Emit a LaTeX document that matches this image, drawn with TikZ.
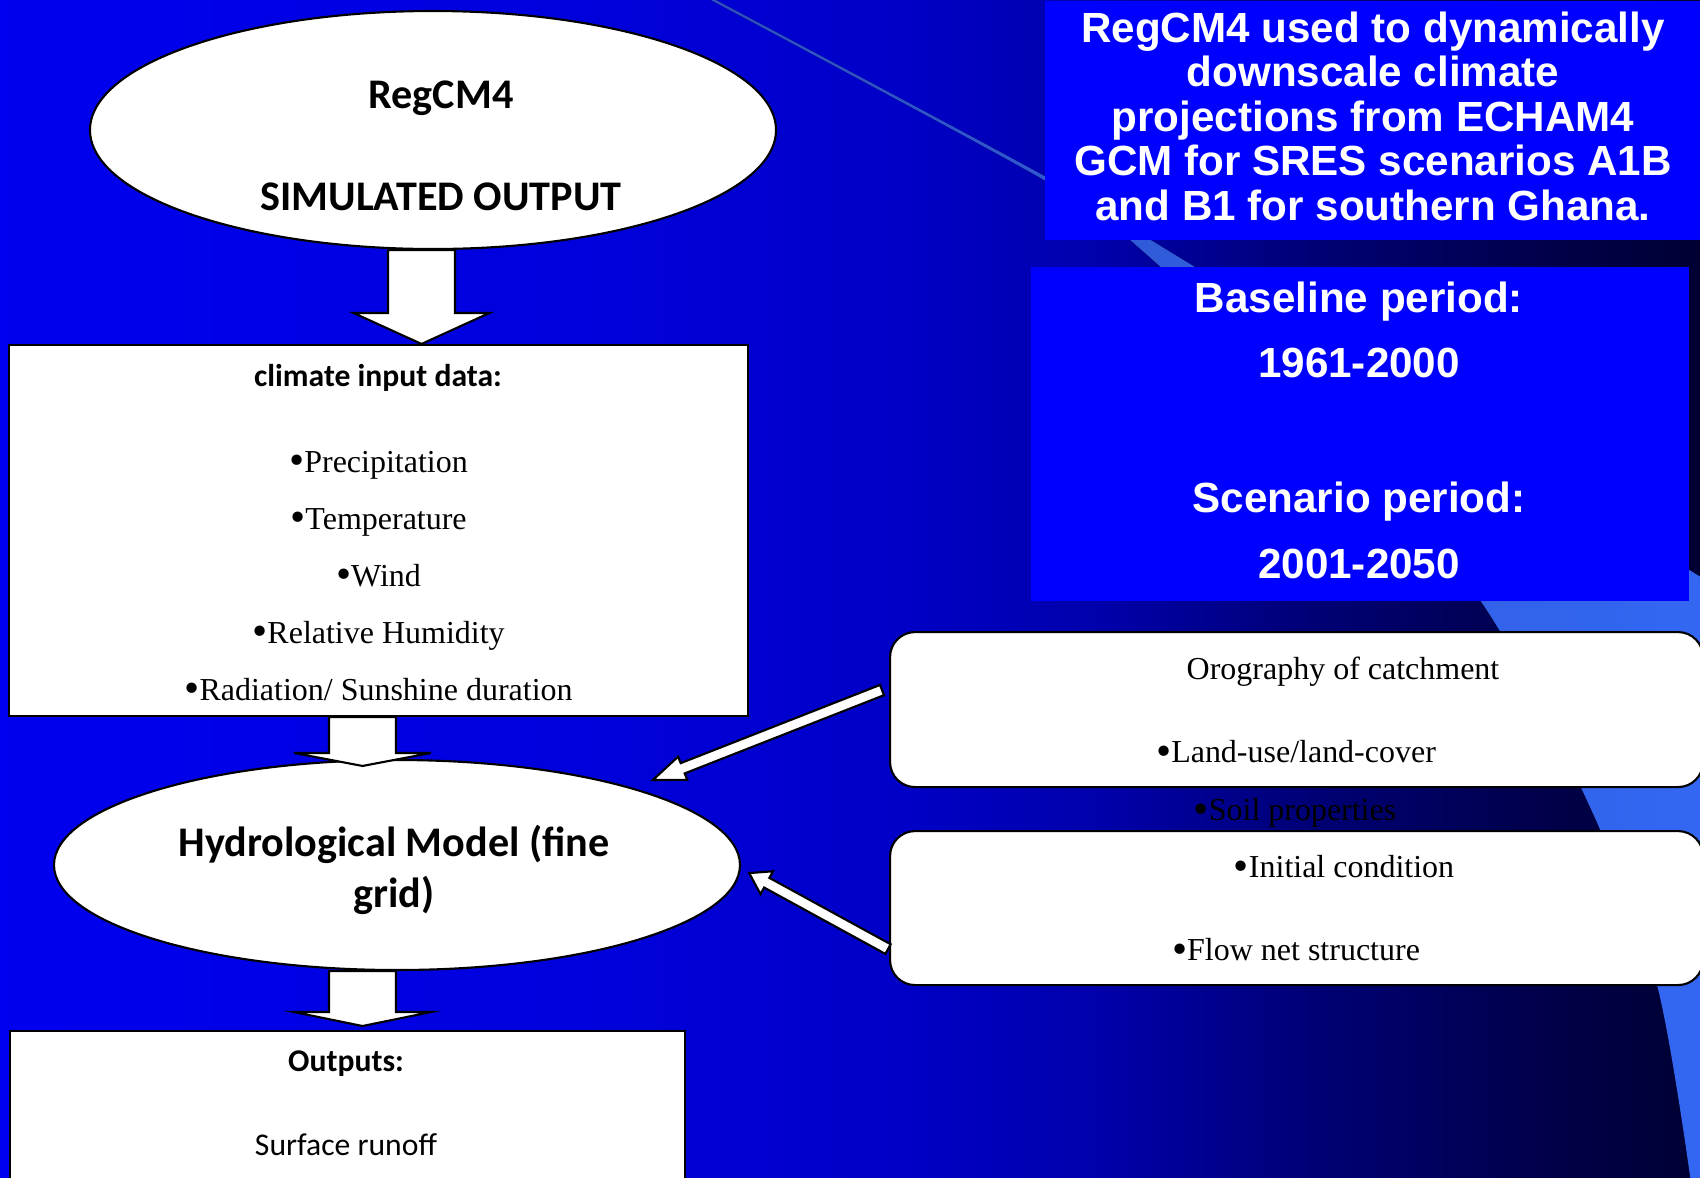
\documentclass[tikz,border=0pt]{standalone}
\usepackage{fontspec}
\setmainfont{Liberation Serif}
\newfontfamily\calibri{Carlito}
\newfontfamily\arialfont{Liberation Sans}
\usetikzlibrary{calc,shapes.geometric}
\definecolor{boxblue}{RGB}{0,0,255}
\definecolor{swooshL}{RGB}{46,80,196}
\definecolor{swooshR}{RGB}{51,104,244}
\pgfdeclarehorizontalshading{slideshade}{100bp}{rgb(0bp)=(0,0,0.94); rgb(25bp)=(0,0,0.94); rgb(42.65bp)=(0,0,0.86); rgb(51.47bp)=(0,0,0.78); rgb(57.35bp)=(0,0,0.67); rgb(63.24bp)=(0,0,0.47); rgb(69.12bp)=(0,0,0.32); rgb(75bp)=(0,0,0.2); rgb(100bp)=(0,0,0.2)}
\newcommand{\bul}{\raisebox{-0.08em}{\scalebox{1.35}{•}}}
\tikzset{
  box/.style={draw=black,fill=white,line width=0.6pt},
  hdr/.style={font=\calibri\bfseries\fontsize{12}{14.5}\selectfont,align=center},
  subhdr/.style={font=\calibri\bfseries\fontsize{9}{11}\selectfont},
  plain/.style={font=\calibri\fontsize{9}{11}\selectfont},
  item/.style={font=\fontsize{9.1}{11}\selectfont},
  bluebox/.style={fill=boxblue,text=white,align=center,inner sep=0,anchor=north west},
  blockarr/.style={draw=black,fill=white,line width=0.6pt,line join=miter}
}
% fat arrow: tail, tip, shaft width, head width, head length
\newcommand{\blockarrow}[5]{%
  \path let \p1=($(#2)-(#1)$) in \pgfextra{%
    \pgfmathparse{atan2(\y1,\x1)}\xdef\arrang{\pgfmathresult}%
    \pgfmathparse{veclen(\x1,\y1)/28.45274}\xdef\arrlen{\pgfmathresult}};
  \draw[blockarr,shift={(#1)},rotate=\arrang] (0,#3/2) -- (\arrlen-#5,#3/2) -- (\arrlen-#5,#4/2) -- (\arrlen,0)
    -- (\arrlen-#5,-#4/2) -- (\arrlen-#5,-#3/2) -- (0,-#3/2) -- cycle;}

\begin{document}
\begin{tikzpicture}[scale=1]
\useasboundingbox (0,0) rectangle (17,-11.77);
\shade[shading=slideshade] (0,0) rectangle (17,-11.77);
\begin{scope}
\clip (0,0) rectangle (17,-11.77);
\fill[left color=swooshL,right color=swooshR] plot[smooth] coordinates {(6.92,0.1) (10.44,-1.8) (11.45,-2.53) (13.25,-4.25) (14.8,-6) (15.9,-8.07) (16.57,-9.85) (16.92,-11.9)}
  -- (17.3,-11.9) -- plot[smooth] coordinates {(17.3,-5.95) (11.72,-2.53) (10.48,-1.78) (6.97,0.1)} -- cycle;
\end{scope}

% right column
\node[bluebox,minimum width=6.6cm,minimum height=2.39cm] (ccm) at (10.44,0) {};
\node[text=white,align=center,font=\arialfont\bfseries\fontsize{12}{12.65}\selectfont] (ccmtxt) at (13.73,-1.16)
  {RegCM4 used to dynamically\\downscale climate\\projections from ECHAM4\\GCM for SRES scenarios A1B\\and B1 for southern Ghana.};
\node[bluebox,minimum width=6.58cm,minimum height=3.34cm] (period) at (10.30,-2.66) {};
\node[text=white,align=center,font=\arialfont\bfseries\fontsize{12}{18.7}\selectfont] (pertxt) at (13.59,-4.30)
  {Baseline period:\\1961-2000\\[19.6pt]Scenario period:\\2001-2050};
\node[box,rounded corners=0.25cm,minimum width=8.13cm,minimum height=1.55cm,anchor=north west] (oro) at (8.89,-6.31) {};
\node[box,rounded corners=0.25cm,minimum width=8.13cm,minimum height=1.54cm,anchor=north west] (flow) at (8.89,-8.30) {};
\node[item] (orog) at (13.43,-6.72) {Orography of catchment};
\node[item] (land) at (12.96,-7.53) {\bul Land-use/land-cover};
\node[item] (soil) at (12.95,-8.13) {\bul Soil properties};
\node[item] (init) at (13.44,-8.68) {\bul Initial condition};
\node[item] (flownet) at (12.96,-9.51) {\bul Flow net structure};

% left column
\node[box,ellipse,minimum width=6.86cm,minimum height=2.38cm,inner sep=0] (regcm) at (4.33,-1.30) {};
\node[hdr] (regname) at (4.41,-0.98) {RegCM4};
\node[hdr] (simout) at (4.41,-1.97) {SIMULATED OUTPUT};
\node[box,minimum width=7.39cm,minimum height=3.71cm,inner sep=0] (clim) at (3.785,-5.305) {};
\node[subhdr] (cltitle) at (3.78,-3.78) {climate input data:};
\foreach \t [count=\i] in {Precipitation,Temperature,Wind,Relative Humidity,{Radiation/ Sunshine duration}}
  \node[item,anchor=base] (c\i) at (3.785,{-4.72-0.571*(\i-1)}) {\bul\t};
\node[box,ellipse,minimum width=6.86cm,minimum height=2.10cm,inner sep=0] (hydro) at (3.97,-8.65) {};
\node[hdr] (hydrotxt) at (3.94,-8.70) {Hydrological Model (fine\\grid)};
\node[box,minimum width=6.75cm,minimum height=1.9cm,anchor=north west] (outbox) at (0.09,-10.30) {};
\node[subhdr] (outtitle) at (3.46,-10.64) {Outputs:};
\node[plain] (runoff) at (3.46,-11.45) {Surface runoff};

% arrows
\coordinate (a1t) at ([xshift=-0.115cm]regcm.south);
\coordinate (a1h) at (a1t |- clim.north);
\blockarrow{a1t}{a1h}{0.67}{1.36}{0.31}
\coordinate (a2t) at ([xshift=-0.16cm]clim.south);
\coordinate (a2h) at ($(a2t |- hydro.north)+(0,-0.07)$);
\blockarrow{a2t}{a2h}{0.67}{1.37}{0.13}
\coordinate (a3t) at (a2t |- hydro.south);
\coordinate (a3h) at ($(a3t |- outbox.north)+(0,0.04)$);
\blockarrow{a3t}{a3h}{0.67}{1.37}{0.14}
\coordinate (a4t) at ([shift={(-0.07,0.195)}]oro.west);
\coordinate (a4h) at ([shift={(0.125,0.10)}]hydro.north east);
\blockarrow{a4t}{a4h}{0.11}{0.25}{0.32}
\coordinate (a5t) at ([shift={(-0.01,-0.41)}]flow.west);
\coordinate (a5h) at ([shift={(0.08,-0.08)}]hydro.east);
\blockarrow{a5t}{a5h}{0.11}{0.26}{0.2}
\end{tikzpicture}
\end{document}
